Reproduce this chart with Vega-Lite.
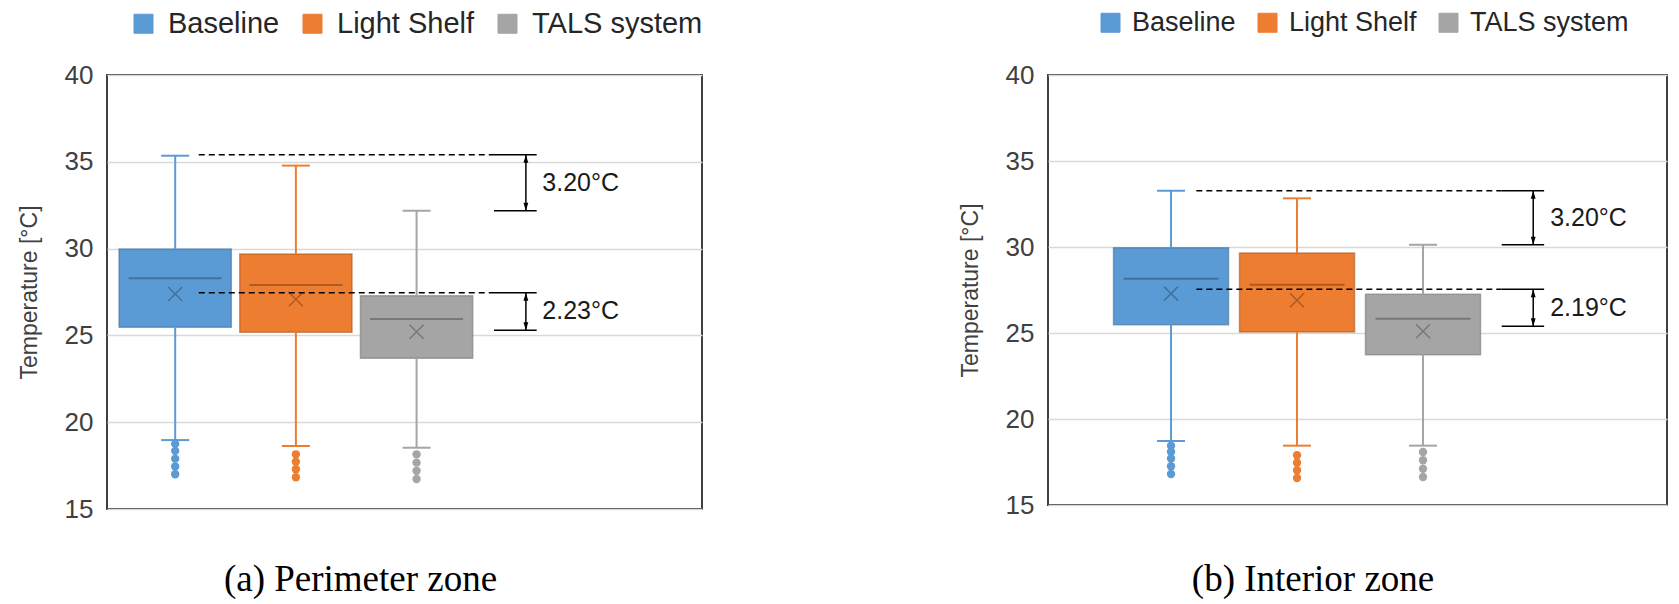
{
  "$schema": "https://vega.github.io/schema/vega-lite/v6.json",
  "padding": {"left": 17, "top": 8, "right": 5, "bottom": 5},
  "background": "#ffffff",
  "datasets": {
    "statsA": [
      {"series": "Baseline", "lo": 18.97, "q1": 25.47, "med": 28.29, "q3": 29.98, "hi": 35.35, "mean": 27.38},
      {"series": "Light Shelf", "lo": 18.63, "q1": 25.18, "med": 27.9, "q3": 29.69, "hi": 34.78, "mean": 27.08},
      {"series": "TALS system", "lo": 18.53, "q1": 23.68, "med": 25.94, "q3": 27.29, "hi": 32.18, "mean": 25.21}
    ],
    "outA": [
      {"series": "Baseline", "value": 18.75}, {"series": "Baseline", "value": 18.35}, {"series": "Baseline", "value": 17.9}, {"series": "Baseline", "value": 17.45}, {"series": "Baseline", "value": 17.0},
      {"series": "Light Shelf", "value": 18.15}, {"series": "Light Shelf", "value": 17.72}, {"series": "Light Shelf", "value": 17.29}, {"series": "Light Shelf", "value": 16.83},
      {"series": "TALS system", "value": 18.15}, {"series": "TALS system", "value": 17.67}, {"series": "TALS system", "value": 17.2}, {"series": "TALS system", "value": 16.73}
    ],
    "annA": [
      {"y1": 35.4, "y2": 32.18, "label": "3.20°C"},
      {"y1": 27.46, "y2": 25.3, "label": "2.23°C"}
    ],
    "statsB": [
      {"series": "Baseline", "lo": 18.72, "q1": 25.48, "med": 28.16, "q3": 29.96, "hi": 33.27, "mean": 27.29},
      {"series": "Light Shelf", "lo": 18.45, "q1": 25.06, "med": 27.81, "q3": 29.65, "hi": 32.83, "mean": 26.9},
      {"series": "TALS system", "lo": 18.45, "q1": 23.74, "med": 25.83, "q3": 27.25, "hi": 30.13, "mean": 25.1}
    ],
    "outB": [
      {"series": "Baseline", "value": 18.45}, {"series": "Baseline", "value": 18.1}, {"series": "Baseline", "value": 17.7}, {"series": "Baseline", "value": 17.25}, {"series": "Baseline", "value": 16.8},
      {"series": "Light Shelf", "value": 17.89}, {"series": "Light Shelf", "value": 17.46}, {"series": "Light Shelf", "value": 17.02}, {"series": "Light Shelf", "value": 16.57},
      {"series": "TALS system", "value": 18.08}, {"series": "TALS system", "value": 17.6}, {"series": "TALS system", "value": 17.11}, {"series": "TALS system", "value": 16.63}
    ],
    "annB": [
      {"y1": 33.27, "y2": 30.13, "label": "3.20°C"},
      {"y1": 27.54, "y2": 25.39, "label": "2.19°C"}
    ]
  },
  "config": {
    "font": "Liberation Sans",
    "view": {"stroke": "#404040", "strokeWidth": 2},
    "axis": {
      "labelFont": "Liberation Sans", "labelFontSize": 26, "labelColor": "#404040",
      "titleFont": "Liberation Sans", "titleFontSize": 23, "titleFontWeight": "normal", "titleColor": "#404040",
      "ticks": false, "domain": false, "labelPadding": 14, "titlePadding": 23,
      "gridColor": "#d9d9d9", "gridWidth": 1.5
    }
  },
  "spacing": 254,
  "resolve": {
    "scale": {"x": "independent", "y": "independent", "color": "independent", "stroke": "independent", "fill": "independent"},
    "legend": {"color": "independent"}
  },
  "hconcat": [
    {
      "width": 595, "height": 434,
      "title": {"text": "(a) Perimeter zone", "orient": "bottom", "frame": "bounds", "anchor": "middle", "font": "Liberation Serif", "fontSize": 37, "fontWeight": "normal", "color": "#000000", "offset": 40},
      "layer": [
        {
          "data": {"name": "statsA"},
          "mark": {"type": "bar", "strokeWidth": 1.5, "strokeOpacity": 0.6, "opacity": 1},
          "encoding": {
            "x": {"field": "series", "type": "nominal", "scale": {"domain": ["Baseline", "Light Shelf", "TALS system"], "paddingInner": 0.07, "paddingOuter": 1.47, "align": 0.05}, "axis": null},
            "y": {"field": "q1", "type": "quantitative", "scale": {"domain": [15, 40], "nice": false, "zero": false}, "axis": {"values": [15, 20, 25, 30, 35, 40], "title": "Temperature [°C]"}},
            "y2": {"field": "q3"},
            "color": {"field": "series", "type": "nominal", "scale": {"domain": ["Baseline", "Light Shelf", "TALS system"], "range": ["#5b9bd5", "#ed7d31", "#a5a5a5"]},
              "legend": {"orient": "none", "legendX": 22, "legendY": -66, "direction": "horizontal", "title": null, "symbolType": "square", "symbolSize": 361, "symbolOpacity": 1, "labelFontSize": 29, "labelFont": "Liberation Sans", "labelColor": "#262626", "labelLimit": 0, "labelOffset": 10, "columnPadding": 18, "symbolStrokeWidth": 1,
                "encode": {"symbols": {"update": {"fillOpacity": {"value": 1}, "strokeOpacity": {"value": 1}, "opacity": {"value": 1}}}}}},
            "stroke": {"field": "series", "type": "nominal", "scale": {"domain": ["Baseline", "Light Shelf", "TALS system"], "range": ["#41719c", "#ae5a21", "#787878"]}, "legend": null}
          }
        },
        {
          "data": {"name": "statsA"},
          "mark": {"type": "rule", "strokeWidth": 2},
          "encoding": {
            "x": {"field": "series", "type": "nominal", "axis": null},
            "y": {"field": "lo", "type": "quantitative"}, "y2": {"field": "q1"},
            "color": {"field": "series", "type": "nominal"}
          }
        },
        {
          "data": {"name": "statsA"},
          "mark": {"type": "rule", "strokeWidth": 2},
          "encoding": {
            "x": {"field": "series", "type": "nominal", "axis": null},
            "y": {"field": "q3", "type": "quantitative"}, "y2": {"field": "hi"},
            "color": {"field": "series", "type": "nominal"}
          }
        },
        {
          "data": {"name": "statsA"},
          "transform": [{"fold": ["lo", "hi"], "as": ["k", "v"]}],
          "mark": {"type": "tick", "size": 28, "thickness": 2, "opacity": 1},
          "encoding": {
            "x": {"field": "series", "type": "nominal", "axis": null},
            "y": {"field": "v", "type": "quantitative"},
            "color": {"field": "series", "type": "nominal"}
          }
        },
        {
          "data": {"name": "statsA"},
          "mark": {"type": "tick", "size": 93, "thickness": 2, "opacity": 1},
          "encoding": {
            "x": {"field": "series", "type": "nominal", "axis": null},
            "y": {"field": "med", "type": "quantitative"},
            "fill": {"field": "series", "type": "nominal", "scale": {"domain": ["Baseline", "Light Shelf", "TALS system"], "range": ["#41719c", "#ae5a21", "#787878"]}, "legend": null}
          }
        },
        {
          "data": {"name": "statsA"},
          "mark": {"type": "point", "shape": "M-1,-1L1,1M-1,1L1,-1", "filled": false, "size": 196, "strokeWidth": 1.5, "opacity": 1},
          "encoding": {
            "x": {"field": "series", "type": "nominal", "axis": null},
            "y": {"field": "mean", "type": "quantitative"},
            "stroke": {"field": "series", "type": "nominal"}
          }
        },
        {
          "data": {"name": "outA"},
          "mark": {"type": "circle", "size": 70, "opacity": 1},
          "encoding": {
            "x": {"field": "series", "type": "nominal", "axis": null},
            "y": {"field": "value", "type": "quantitative"},
            "color": {"field": "series", "type": "nominal"}
          }
        },
        {
          "data": {"name": "annA"},
          "mark": {"type": "rule", "strokeDash": [6, 4], "strokeWidth": 1.5, "color": "#000000"},
          "encoding": {
            "x": {"datum": "Baseline", "bandPosition": 0.71, "axis": null},
            "x2": {"datum": "TALS system", "bandPosition": 1.19},
            "y": {"field": "y1", "type": "quantitative"}
          }
        },
        {
          "data": {"name": "annA"},
          "transform": [{"fold": ["y1", "y2"], "as": ["k", "v"]}],
          "mark": {"type": "rule", "strokeWidth": 1.5, "color": "#000000"},
          "encoding": {
            "x": {"datum": "TALS system", "bandPosition": 1.19, "axis": null},
            "x2": {"datum": "TALS system", "bandPosition": 1.57},
            "y": {"field": "v", "type": "quantitative"}
          }
        },
        {
          "data": {"name": "annA"},
          "mark": {"type": "rule", "strokeWidth": 1.5, "color": "#000000"},
          "encoding": {
            "x": {"datum": "TALS system", "bandPosition": 1.474, "axis": null},
            "y": {"field": "y1", "type": "quantitative"}, "y2": {"field": "y2"}
          }
        },
        {
          "data": {"name": "annA"},
          "mark": {"type": "point", "shape": "M0,-1L0.6,1L-0.6,1Z", "filled": true, "size": 64, "color": "#000000", "opacity": 1, "yOffset": 4},
          "encoding": {
            "x": {"datum": "TALS system", "bandPosition": 1.474, "axis": null},
            "y": {"field": "y1", "type": "quantitative"}
          }
        },
        {
          "data": {"name": "annA"},
          "mark": {"type": "point", "shape": "M0,1L0.6,-1L-0.6,-1Z", "filled": true, "size": 64, "color": "#000000", "opacity": 1, "yOffset": -4},
          "encoding": {
            "x": {"datum": "TALS system", "bandPosition": 1.474, "axis": null},
            "y": {"field": "y2", "type": "quantitative"}
          }
        },
        {
          "data": {"name": "annA"},
          "transform": [{"fold": ["y1", "y2"], "as": ["k", "v"]}],
          "mark": {"type": "text", "align": "left", "baseline": "middle", "fontSize": 25, "font": "Liberation Sans", "color": "#1a1a1a"},
          "encoding": {
            "x": {"datum": "TALS system", "bandPosition": 1.62, "axis": null},
            "y": {"aggregate": "mean", "field": "v", "type": "quantitative"},
            "text": {"field": "label", "type": "nominal"}
          }
        }
      ]
    },
    {
      "width": 619, "height": 430,
      "title": {"text": "(b) Interior zone", "orient": "bottom", "frame": "bounds", "anchor": "middle", "font": "Liberation Serif", "fontSize": 37, "fontWeight": "normal", "color": "#000000", "offset": 44},
      "layer": [
        {
          "data": {"name": "statsB"},
          "mark": {"type": "bar", "strokeWidth": 1.5, "strokeOpacity": 0.6, "opacity": 1},
          "encoding": {
            "x": {"field": "series", "type": "nominal", "scale": {"domain": ["Baseline", "Light Shelf", "TALS system"], "paddingInner": 0.087, "paddingOuter": 1.45, "align": 0.26}, "axis": null},
            "y": {"field": "q1", "type": "quantitative", "scale": {"domain": [15, 40], "nice": false, "zero": false}, "axis": {"values": [15, 20, 25, 30, 35, 40], "title": "Temperature [°C]"}},
            "y2": {"field": "q3"},
            "color": {"field": "series", "type": "nominal", "scale": {"domain": ["Baseline", "Light Shelf", "TALS system"], "range": ["#5b9bd5", "#ed7d31", "#a5a5a5"]},
              "legend": {"orient": "none", "legendX": 49, "legendY": -66, "direction": "horizontal", "title": null, "symbolType": "square", "symbolSize": 361, "symbolOpacity": 1, "labelFontSize": 27, "labelFont": "Liberation Sans", "labelColor": "#262626", "labelLimit": 0, "labelOffset": 8, "columnPadding": 18, "symbolStrokeWidth": 1,
                "encode": {"symbols": {"update": {"fillOpacity": {"value": 1}, "strokeOpacity": {"value": 1}, "opacity": {"value": 1}}}}}},
            "stroke": {"field": "series", "type": "nominal", "scale": {"domain": ["Baseline", "Light Shelf", "TALS system"], "range": ["#41719c", "#ae5a21", "#787878"]}, "legend": null}
          }
        },
        {
          "data": {"name": "statsB"},
          "mark": {"type": "rule", "strokeWidth": 2},
          "encoding": {
            "x": {"field": "series", "type": "nominal", "axis": null},
            "y": {"field": "lo", "type": "quantitative"}, "y2": {"field": "q1"},
            "color": {"field": "series", "type": "nominal"}
          }
        },
        {
          "data": {"name": "statsB"},
          "mark": {"type": "rule", "strokeWidth": 2},
          "encoding": {
            "x": {"field": "series", "type": "nominal", "axis": null},
            "y": {"field": "q3", "type": "quantitative"}, "y2": {"field": "hi"},
            "color": {"field": "series", "type": "nominal"}
          }
        },
        {
          "data": {"name": "statsB"},
          "transform": [{"fold": ["lo", "hi"], "as": ["k", "v"]}],
          "mark": {"type": "tick", "size": 28, "thickness": 2, "opacity": 1},
          "encoding": {
            "x": {"field": "series", "type": "nominal", "axis": null},
            "y": {"field": "v", "type": "quantitative"},
            "color": {"field": "series", "type": "nominal"}
          }
        },
        {
          "data": {"name": "statsB"},
          "mark": {"type": "tick", "size": 95, "thickness": 2, "opacity": 1},
          "encoding": {
            "x": {"field": "series", "type": "nominal", "axis": null},
            "y": {"field": "med", "type": "quantitative"},
            "fill": {"field": "series", "type": "nominal", "scale": {"domain": ["Baseline", "Light Shelf", "TALS system"], "range": ["#41719c", "#ae5a21", "#787878"]}, "legend": null}
          }
        },
        {
          "data": {"name": "statsB"},
          "mark": {"type": "point", "shape": "M-1,-1L1,1M-1,1L1,-1", "filled": false, "size": 196, "strokeWidth": 1.5, "opacity": 1},
          "encoding": {
            "x": {"field": "series", "type": "nominal", "axis": null},
            "y": {"field": "mean", "type": "quantitative"},
            "stroke": {"field": "series", "type": "nominal"}
          }
        },
        {
          "data": {"name": "outB"},
          "mark": {"type": "circle", "size": 70, "opacity": 1},
          "encoding": {
            "x": {"field": "series", "type": "nominal", "axis": null},
            "y": {"field": "value", "type": "quantitative"},
            "color": {"field": "series", "type": "nominal"}
          }
        },
        {
          "data": {"name": "annB"},
          "mark": {"type": "rule", "strokeDash": [6, 4], "strokeWidth": 1.5, "color": "#000000"},
          "encoding": {
            "x": {"datum": "Baseline", "bandPosition": 0.72, "axis": null},
            "x2": {"datum": "TALS system", "bandPosition": 1.184},
            "y": {"field": "y1", "type": "quantitative"}
          }
        },
        {
          "data": {"name": "annB"},
          "transform": [{"fold": ["y1", "y2"], "as": ["k", "v"]}],
          "mark": {"type": "rule", "strokeWidth": 1.5, "color": "#000000"},
          "encoding": {
            "x": {"datum": "TALS system", "bandPosition": 1.184, "axis": null},
            "x2": {"datum": "TALS system", "bandPosition": 1.553},
            "y": {"field": "v", "type": "quantitative"}
          }
        },
        {
          "data": {"name": "annB"},
          "mark": {"type": "rule", "strokeWidth": 1.5, "color": "#000000"},
          "encoding": {
            "x": {"datum": "TALS system", "bandPosition": 1.458, "axis": null},
            "y": {"field": "y1", "type": "quantitative"}, "y2": {"field": "y2"}
          }
        },
        {
          "data": {"name": "annB"},
          "mark": {"type": "point", "shape": "M0,-1L0.6,1L-0.6,1Z", "filled": true, "size": 64, "color": "#000000", "opacity": 1, "yOffset": 4},
          "encoding": {
            "x": {"datum": "TALS system", "bandPosition": 1.458, "axis": null},
            "y": {"field": "y1", "type": "quantitative"}
          }
        },
        {
          "data": {"name": "annB"},
          "mark": {"type": "point", "shape": "M0,1L0.6,-1L-0.6,-1Z", "filled": true, "size": 64, "color": "#000000", "opacity": 1, "yOffset": -4},
          "encoding": {
            "x": {"datum": "TALS system", "bandPosition": 1.458, "axis": null},
            "y": {"field": "y2", "type": "quantitative"}
          }
        },
        {
          "data": {"name": "annB"},
          "transform": [{"fold": ["y1", "y2"], "as": ["k", "v"]}],
          "mark": {"type": "text", "align": "left", "baseline": "middle", "fontSize": 25, "font": "Liberation Sans", "color": "#1a1a1a"},
          "encoding": {
            "x": {"datum": "TALS system", "bandPosition": 1.605, "axis": null},
            "y": {"aggregate": "mean", "field": "v", "type": "quantitative"},
            "text": {"field": "label", "type": "nominal"}
          }
        }
      ]
    }
  ]
}
